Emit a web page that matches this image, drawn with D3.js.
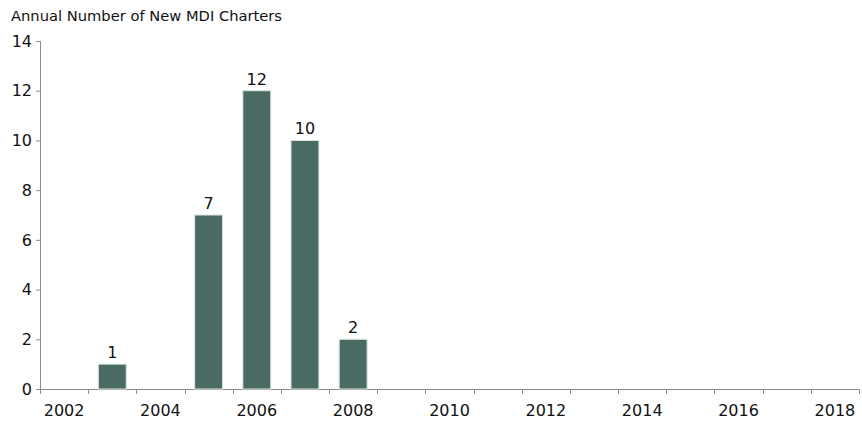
<!DOCTYPE html>
<html>
<head>
<meta charset="utf-8">
<title>Annual Number of New MDI Charters</title>
<style>
  body { margin: 0; background: #fff; }
  svg text { font-family: 'DejaVu Sans', sans-serif; fill: #111; }
</style>
<script src="https://d3js.org/d3.v7.min.js"></script>
</head>
<body>
<svg id="chart" width="862" height="421"></svg>
<script>
// data
var years = d3.range(2002, 2019);
var barYears = [2003, 2005, 2006, 2007, 2008];
var barValues = [1, 7, 12, 10, 2];
var yTicks = [0, 2, 4, 6, 8, 10, 12, 14];
var title = "Annual Number of New MDI Charters";

var svg = d3.select("#chart");
var plotLeft = 40, plotRight = 859, plotTop = 41, plotBottom = 389;

var x = d3.scaleBand()
  .domain(years)
  .range([plotLeft, plotRight])
  .paddingInner(0.42)
  .paddingOuter(0.21);

var xb = d3.scaleBand().domain(years).range([plotLeft, plotRight]); // for tick marks

var y = d3.scaleLinear().domain([0, 14]).range([plotBottom, plotTop]);

svg.append("text")
  .attr("x", 11).attr("y", 21)
  .style("font-size", "14.7px")
  .text(title);

// y axis
var axisColor = "#8c8c8c";
svg.append("line")
  .attr("x1", plotLeft + 0.5).attr("x2", plotLeft + 0.5)
  .attr("y1", y(14)).attr("y2", plotBottom)
  .attr("stroke", axisColor);
svg.selectAll(".ytick").data(yTicks).enter().append("line")
  .attr("x1", plotLeft - 4).attr("x2", plotLeft)
  .attr("y1", d => y(d) + 0.5).attr("y2", d => y(d) + 0.5)
  .attr("stroke", axisColor);
svg.selectAll(".ylab").data(yTicks).enter().append("text")
  .attr("x", 32).attr("y", d => y(d))
  .attr("dy", "0.36em")
  .attr("text-anchor", "end")
  .style("font-size", "16px")
  .text(d => d);

// x axis
svg.append("line")
  .attr("x1", plotLeft).attr("x2", plotRight)
  .attr("y1", plotBottom + 0.5).attr("y2", plotBottom + 0.5)
  .attr("stroke", axisColor);
var edges = years.map(d => xb(d)).concat([plotRight]);
svg.selectAll(".xtick").data(edges).enter().append("line")
  .attr("x1", d => Math.round(d) + 0.5).attr("x2", d => Math.round(d) + 0.5)
  .attr("y1", plotBottom).attr("y2", plotBottom + 5)
  .attr("stroke", axisColor);
svg.selectAll(".xlab").data(years.filter(d => d % 2 === 0)).enter().append("text")
  .attr("x", d => xb(d) + xb.bandwidth() / 2)
  .attr("y", 416)
  .attr("text-anchor", "middle")
  .style("font-size", "16px")
  .text(d => d);

// bars
var bars = barYears.map((d, i) => ({ year: d, value: barValues[i] }));
svg.selectAll(".bar").data(bars).enter().append("rect")
  .attr("x", d => x(d.year))
  .attr("width", x.bandwidth())
  .attr("y", d => y(d.value))
  .attr("height", d => plotBottom - y(d.value))
  .attr("fill", "#4a6b63")
  .attr("stroke", "#dfe6e3")
  .attr("stroke-width", 1);

svg.selectAll(".val").data(bars).enter().append("text")
  .attr("x", d => x(d.year) + x.bandwidth() / 2)
  .attr("y", d => y(d.value) - 6)
  .attr("text-anchor", "middle")
  .style("font-size", "16px")
  .text(d => d.value);
</script>
</body>
</html>
